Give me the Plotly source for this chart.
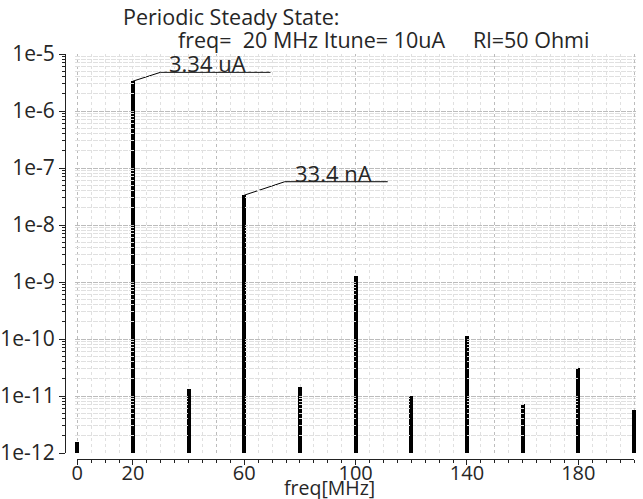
import math
import plotly.graph_objects as go

# ---------------- data ----------------
freq_mhz = [0, 20, 40, 60, 80, 100, 120, 140, 160, 180, 200]
current_a = [1.56e-12, 3.34e-6, 1.31e-11, 3.34e-8, 1.46e-11, 1.27e-9,
             1.0e-11, 1.13e-10, 7.2e-12, 3.1e-11, 5.7e-12]

x_tick_vals = [0, 20, 60, 100, 140, 180]
x_tick_text = ["0", "20", "60", "100", "140", "180"]
y_tick_vals = [1e-12, 1e-11, 1e-10, 1e-9, 1e-8, 1e-7, 1e-6, 1e-5]
y_tick_text = ["1e-12", "1e-11", "1e-10", "1e-9", "1e-8", "1e-7", "1e-6", "1e-5"]

marker_freqs = [20, 60]
marker_labels = ["3.34 uA", "33.4 nA"]

title_line1 = "Periodic Steady State:"
title_line2 = "freq=\u00a0\u00a020\u00a0MHz Itune= 10uA\u00a0\u00a0\u00a0\u00a0\u00a0Rl=50 Ohmi"
x_title = "freq[MHz]"

# ---------------- styling / geometry ----------------
FONT = "Open Sans"
TXT = "#262626"
ML, MR, MT, MB = 65, 5, 54, 40
W = 643 - ML - MR
H = 499 - MT - MB

def px_x(p):
    return (p - ML) / W

def px_y(p):
    return (499 - MB - p) / H

# leader geometry (elbow dx, elbow ratio, end dx, label dx) per marker
leader_style = [(9.9, 1.43, 49.4, 26.8), (14.5, 1.72, 51.5, 32.1)]

minor_y = [k * 10.0 ** e for e in range(-12, -5) for k in range(2, 10)]

fig = go.Figure()
fig.add_trace(go.Bar(x=freq_mhz, y=current_a, width=1.4,
                     marker=dict(color="black", line=dict(width=0)),
                     showlegend=False, hoverinfo="x+y"))

annotations = []
for f, lab, (edx, er, enddx, ldx) in zip(marker_freqs, marker_labels, leader_style):
    v = current_a[freq_mhz.index(f)]
    ly = v * er
    fig.add_trace(go.Scatter(x=[f, f + edx, f + enddx], y=[v, ly, ly], mode="lines",
                             line=dict(color="black", width=1), showlegend=False,
                             hoverinfo="skip"))
    annotations.append(dict(x=f + ldx, y=math.log10(ly), xref="x", yref="y", text=lab,
                            showarrow=False, xanchor="center", yanchor="middle", yshift=9,
                            font=dict(family=FONT, size=22, color=TXT)))

# helper traces registering the free axes
fig.add_trace(go.Scatter(x=[0], y=[1e-12], xaxis="x2", yaxis="y", mode="markers",
                         marker=dict(opacity=0), showlegend=False, hoverinfo="skip"))
fig.add_trace(go.Scatter(x=[0], y=[1e-12], xaxis="x", yaxis="y2", mode="markers",
                         marker=dict(opacity=0), showlegend=False, hoverinfo="skip"))

annotations += [
    dict(x=px_x(121), y=px_y(17), xref="paper", yref="paper", text=title_line1,
         showarrow=False, xanchor="left", yanchor="middle",
         font=dict(family=FONT, size=21.5, color=TXT)),
    dict(x=px_x(176), y=px_y(39), xref="paper", yref="paper", text=title_line2,
         showarrow=False, xanchor="left", yanchor="middle",
         font=dict(family=FONT, size=21.5, color=TXT)),
    dict(x=px_x(329), y=px_y(487), xref="paper", yref="paper", text=x_title,
         showarrow=False, xanchor="center", yanchor="middle",
         font=dict(family=FONT, size=19.5, color=TXT)),
]

grid_major = dict(showgrid=True, gridcolor="#bcbcbc", griddash="dot", gridwidth=1)
grid_minor = dict(showgrid=True, gridcolor="#e0e0e0", griddash="dot", gridwidth=1)

fig.update_layout(
    width=643, height=499,
    margin=dict(l=ML, r=MR, t=MT, b=MB, autoexpand=False),
    paper_bgcolor="white", plot_bgcolor="rgba(0,0,0,0)",
    font=dict(family=FONT, color=TXT),
    bargap=0,
    annotations=annotations,
    xaxis=dict(domain=[px_x(75), 1], range=[-0.83, 201.4], anchor="y", automargin=False,
               tick0=0, dtick=50, showticklabels=False, ticks="",
               showline=False, zeroline=False, **grid_major,
               minor=dict(dtick=5, tick0=0, **grid_minor)),
    yaxis=dict(domain=[px_y(453), 1], type="log", range=[-12, -5], anchor="x",
               automargin=False,
               tickvals=y_tick_vals, showticklabels=False, ticks="",
               showline=False, zeroline=False, **grid_major,
               minor=dict(tickvals=minor_y, **grid_minor)),
    xaxis2=dict(domain=[px_x(77.3), px_x(634)], range=[0, 200], anchor="free", position=0,
                automargin=False,
                showgrid=False, zeroline=False, showline=True, linecolor="#222",
                linewidth=1, ticks="outside", ticklen=5, tickcolor="#222",
                tickvals=x_tick_vals, ticktext=x_tick_text, ticklabelstandoff=-9,
                tickfont=dict(family=FONT, size=20, color=TXT),
                minor=dict(dtick=5, tick0=0, ticks="outside", ticklen=3,
                           tickcolor="#222", showgrid=False)),
    yaxis2=dict(overlaying="y", anchor="free", position=0, side="left", type="log",
                automargin=False,
                range=[-12, -5], showgrid=False, zeroline=False, showline=True,
                linecolor="#222", linewidth=1, ticks="outside", ticklen=6,
                tickcolor="#222", tickvals=y_tick_vals, ticktext=y_tick_text,
                tickfont=dict(family=FONT, size=21, color=TXT),
                minor=dict(tickvals=minor_y, ticks="outside", ticklen=3,
                           tickcolor="#222", showgrid=False)),
)

fig.write_html("out.html", config={"displayModeBar": False},
               post_script="document.body.style.margin='0';document.body.style.overflow='hidden';")
